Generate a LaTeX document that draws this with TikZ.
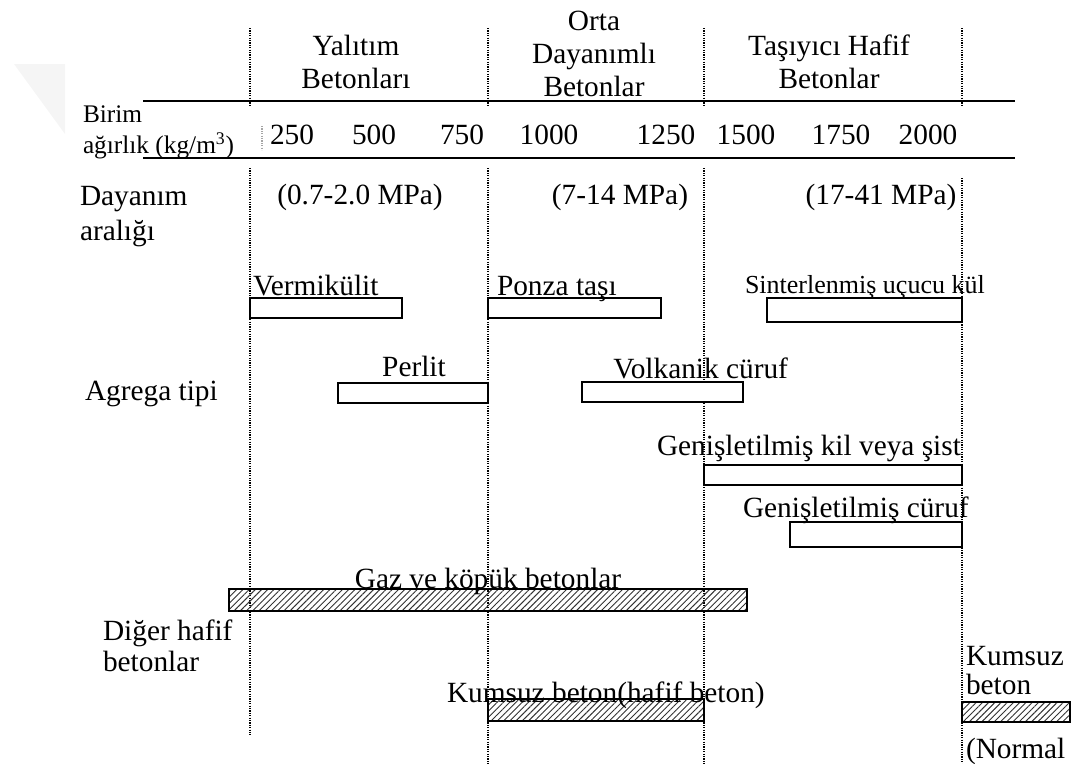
\documentclass[tikz,border=0pt]{standalone}
\usepackage{fontspec}
\setmainfont{Liberation Serif}
\usetikzlibrary{patterns.meta}
\begin{document}
\begin{tikzpicture}[x=0.75pt,y=-0.75pt,
  every node/.style={inner sep=0pt,outer sep=0pt,font=\fontsize{22}{26}\selectfont},
  lw/.style={anchor=base west},
  lc/.style={anchor=base},
  small/.style={font=\fontsize{19}{22}\selectfont},
  guide/.style={line width=1.1pt,dash pattern=on 0.9pt off 0.9pt},
  rulel/.style={line width=2pt},
  bar/.style={draw,line width=1.8pt,fill=white},
  hbar/.style={draw,line width=1.8pt,pattern={Lines[angle=45,distance=3.3pt,line width=0.7pt]},pattern color=black!80}]
\useasboundingbox (0,0) rectangle (1072,764);
% faint watermark
\fill[black!4] (14,64) -- (65,64) -- (65,134) -- cycle;
% guides
\foreach \gx in {250,488,704,962}{\draw[guide] (\gx,28) -- (\gx,107);}
\draw[guide] (250,168) -- (250,735);
\draw[guide] (488,168) -- (488,764);
\draw[guide] (704,168) -- (704,764);
\draw[guide] (962,178) -- (962,764);
\draw[guide,black!35] (262,126) -- (262,150);
% rules
\draw[rulel] (143,101) -- (1015,101);
\draw[rulel] (143,158) -- (1015,158);
% headers
\node[lc] (h1a) at (356,55) {Yalıtım};
\node[lc] (h1b) at (356,88) {Betonları};
\node[lc] (h2a) at (594,30) {Orta};
\node[lc] (h2b) at (594,63) {Dayanımlı};
\node[lc] (h2c) at (594,96) {Betonlar};
\node[lc] (h3a) at (829,55) {Taşıyıcı Hafif};
\node[lc] (h3b) at (829,88) {Betonlar};
% unit weight row
\node[lw,small] (bw1) at (83,122) {Birim};
\node[lw,small] (bw2) at (83,153) {ağırlık (kg/m\textsuperscript{3})};
\foreach \v/\px in {250/292,500/374,750/462,1000/549,1250/666,1500/746,1750/841,2000/928}{
  \node[lc] (n\v) at (\px,144) {\v};}
% strength
\node[lw] (d1) at (80,205) {Dayanım};
\node[lw] (d2) at (80,240) {aralığı};
\node[lc] (s1) at (360,204) {(0.7-2.0 MPa)};
\node[lc] (s2) at (620,204) {(7-14 MPa)};
\node[lc] (s3) at (881,204) {(17-41 MPa)};
% aggregate
\node[lw] (ag) at (85,400) {Agrega tipi};
\draw[bar] (250,298) rectangle (402,318);
\node[lw] (verm) at (253,295) {Vermikülit};
\draw[bar] (488,298) rectangle (661,318);
\node[lw] (ponza) at (497,295) {Ponza taşı};
\draw[bar] (767,298) rectangle (962,322);
\node[lw,font=\fontsize{19.5}{23}\selectfont] (sint) at (745,293) {Sinterlenmiş uçucu kül};
\draw[bar] (338,383) rectangle (488,403);
\node[lc] (perl) at (414,376) {Perlit};
\draw[bar] (582,382) rectangle (743,402);
\node[anchor=base east] (volk) at (788,378) {Volkanik cüruf};
\draw[bar] (704,465) rectangle (962,485);
\node[lw] (gkil) at (657,455) {Genişletilmiş kil veya şist};
\draw[bar] (790,522) rectangle (962,547);
\node[lw] (gcur) at (743,517) {Genişletilmiş cüruf};
% other lightweight
\node[lw] (o1) at (103,640) {Diğer hafif};
\node[lw] (o2) at (103,671) {betonlar};
\draw[hbar] (229,589) rectangle (747,611);
\node[lc] (gaz) at (488,588) {Gaz ve köpük betonlar};
\draw[hbar] (488,699) rectangle (704,721);
\node[lw] (kum) at (447,702) {Kumsuz beton(hafif beton)};
\draw[hbar] (962,702) rectangle (1070,722);
\node[lw] (k1) at (966,665) {Kumsuz};
\node[lw] (k2) at (966,694) {beton};
\node[lw] (k3) at (966,758) {(Normal};
\end{tikzpicture}
\end{document}
